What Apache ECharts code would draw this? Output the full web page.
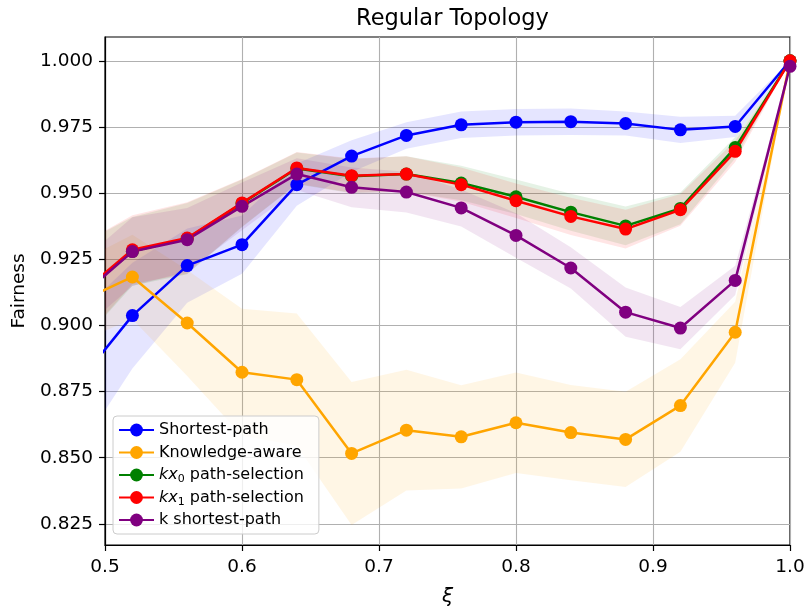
<!DOCTYPE html>
<html>
<head>
<meta charset="utf-8">
<script src="https://cdn.jsdelivr.net/npm/echarts@6/dist/echarts.min.js"></script>
<style>
  html, body { margin: 0; padding: 0; background: #fff; }
  #chart { width: 806px; height: 608px; }
</style>
</head>
<body>
<div id="chart"></div>
<script>
// Sweep of xi values (first point lies just left of the visible range)
const xi = [0.48, 0.52, 0.56, 0.60, 0.64, 0.68, 0.72, 0.76, 0.80, 0.84, 0.88, 0.92, 0.96, 1.00];

// Mean fairness per strategy
const shortestPath   = [0.878, 0.9037, 0.9226, 0.9305, 0.9532, 0.9640, 0.9718, 0.9758, 0.9768, 0.9770, 0.9763, 0.9739, 0.9752, 1.000];
const knowledgeAware = [0.9087, 0.9183, 0.9009, 0.8823, 0.8795, 0.8516, 0.8604, 0.8579, 0.8632, 0.8595, 0.8569, 0.8697, 0.8974, 1.000];
const kx0Selection   = [0.911, 0.9280, 0.9328, 0.9461, 0.9593, 0.9564, 0.9572, 0.9538, 0.9486, 0.9428, 0.9376, 0.9442, 0.9672, 1.000];
const kx1Selection   = [0.911, 0.9286, 0.9330, 0.9463, 0.9595, 0.9566, 0.9572, 0.9532, 0.9471, 0.9412, 0.9364, 0.9437, 0.9658, 1.000];
const kShortestPath  = [0.910, 0.9279, 0.9324, 0.9450, 0.9572, 0.9522, 0.9504, 0.9444, 0.9340, 0.9217, 0.9050, 0.8990, 0.9170, 0.9979];

// Spread (one standard deviation) per strategy
const shortestPathStd   = [0.026, 0.020, 0.014, 0.011, 0.008, 0.006, 0.005, 0.005, 0.005, 0.005, 0.0045, 0.005, 0.004, 0];
const knowledgeAwareStd = [0.015, 0.016, 0.020, 0.024, 0.025, 0.027, 0.0228, 0.0195, 0.019, 0.018, 0.018, 0.0175, 0.0115, 0];
const kx0SelectionStd   = [0.019, 0.013, 0.0135, 0.009, 0.006, 0.0065, 0.0067, 0.0065, 0.0065, 0.007, 0.0073, 0.006, 0.004, 0];
const kx1SelectionStd   = [0.019, 0.013, 0.0135, 0.009, 0.006, 0.0065, 0.0067, 0.0065, 0.0065, 0.007, 0.0073, 0.006, 0.004, 0];
const kShortestPathStd  = [0.013, 0.013, 0.012, 0.009, 0.006, 0.0075, 0.0077, 0.007, 0.0084, 0.0078, 0.0093, 0.008, 0.0055, 0];

// Axis ticks
const xTicks = [0.5, 0.6, 0.7, 0.8, 0.9, 1.0];
const yTicks = [0.825, 0.850, 0.875, 0.900, 0.925, 0.950, 0.975, 1.000];

const FONT = 'DejaVu Sans';

const strategies = [
  { name: 'Shortest-path',      mean: shortestPath,   std: shortestPathStd,   color: '#0000ff', label: '{t|Shortest-path}' },
  { name: 'Knowledge-aware',    mean: knowledgeAware, std: knowledgeAwareStd, color: '#ffa500', label: '{t|Knowledge-aware}' },
  { name: 'kx0 path-selection', mean: kx0Selection,   std: kx0SelectionStd,   color: '#008000', label: '{i|kx}{s|0}{t| path-selection}' },
  { name: 'kx1 path-selection', mean: kx1Selection,   std: kx1SelectionStd,   color: '#ff0000', label: '{i|kx}{s|1}{t| path-selection}' },
  { name: 'k shortest-path',    mean: kShortestPath,  std: kShortestPathStd,  color: '#800080', label: '{t|k shortest-path}' }
];

const series = [];

// Shaded mean ± std bands, one polygon per strategy, beneath all lines
strategies.forEach(s => {
  series.push({
    type: 'custom',
    name: s.name + ' band',
    silent: true,
    z: 1,
    data: [[xi[0], s.mean[0]]],
    renderItem: (params, api) => {
      const upper = xi.map((x, i) => api.coord([x, s.mean[i] + s.std[i]]));
      const lower = xi.map((x, i) => api.coord([x, s.mean[i] - s.std[i]])).reverse();
      const cs = params.coordSys;
      return {
        type: 'polygon',
        shape: { points: upper.concat(lower) },
        style: { fill: s.color, opacity: 0.1 },
        clipPath: { type: 'rect', shape: { x: cs.x, y: cs.y, width: cs.width, height: cs.height } }
      };
    }
  });
});

// Mean lines with markers
strategies.forEach(s => {
  series.push({
    type: 'line',
    name: s.name,
    data: xi.map((x, i) => [x, s.mean[i]]),
    symbol: 'circle',
    symbolSize: 13,
    lineStyle: { color: s.color, width: 2.5 },
    itemStyle: { color: s.color },
    z: 3
  });
});

const labelOf = {};
strategies.forEach(s => { labelOf[s.name] = s.label; });

const chart = echarts.init(document.getElementById('chart'), null, { renderer: 'canvas' });
chart.setOption({
  animation: false,
  backgroundColor: '#ffffff',
  title: {
    text: 'Regular Topology',
    left: 447.5,
    top: 3,
    textAlign: 'center',
    textStyle: { fontFamily: FONT, fontSize: 22.5, fontWeight: 'normal', color: '#000' }
  },
  grid: {
    left: 105, right: 16, top: 37, bottom: 63,
    outerBoundsMode: 'none',
    containLabel: false,
    show: true, borderColor: '#000', borderWidth: 1.2, backgroundColor: 'transparent'
  },
  legend: {
    data: strategies.map(s => s.name),
    orient: 'vertical',
    left: 113,
    top: 416,
    itemWidth: 35,
    itemHeight: 16,
    itemGap: 2.5,
    itemTextGap: 12,
    padding: [4, 15, 4, 5],
    backgroundColor: 'rgba(255,255,255,0.8)',
    borderColor: '#cccccc',
    borderWidth: 1,
    borderRadius: 4,
    formatter: name => labelOf[name],
    textStyle: {
      fontFamily: FONT, fontSize: 16, lineHeight: 20, color: '#000',
      rich: {
        t: { fontFamily: FONT, fontSize: 16, lineHeight: 20, color: '#000' },
        i: { fontFamily: FONT, fontSize: 16, lineHeight: 20, color: '#000', fontStyle: 'italic' },
        s: { fontFamily: FONT, fontSize: 11, lineHeight: 11, color: '#000', verticalAlign: 'bottom' }
      }
    }
  },
  xAxis: {
    type: 'value',
    min: 0.5,
    max: 1.0,
    interval: 0.1,
    name: 'ξ',
    nameLocation: 'middle',
    nameGap: 42,
    nameTextStyle: { fontFamily: FONT, fontSize: 20, fontStyle: 'italic', color: '#000' },
    axisLine: { onZero: false, lineStyle: { color: '#000', width: 1.2 } },
    axisTick: { show: true, inside: false, length: 6, lineStyle: { color: '#000', width: 1.2 }, customValues: xTicks },
    axisLabel: {
      customValues: xTicks,
      margin: 13,
      fontFamily: FONT, fontSize: 18.5, color: '#000',
      formatter: v => v.toFixed(1)
    },
    splitLine: { show: true, lineStyle: { color: '#b0b0b0', width: 1.1 } }
  },
  yAxis: {
    type: 'value',
    min: 0.817,
    max: 1.009,
    name: 'Fairness',
    nameLocation: 'middle',
    nameGap: 76,
    nameRotate: 90,
    nameTextStyle: { fontFamily: FONT, fontSize: 18.5, color: '#000' },
    axisLine: { onZero: false, lineStyle: { color: '#000', width: 1.2 } },
    axisTick: { show: true, inside: false, length: 6, lineStyle: { color: '#000', width: 1.2 }, customValues: yTicks },
    axisLabel: {
      customValues: yTicks,
      margin: 12,
      fontFamily: FONT, fontSize: 18.5, color: '#000',
      formatter: v => v.toFixed(3)
    },
    splitLine: { show: true, lineStyle: { color: '#b0b0b0', width: 1.1 } }
  },
  series: series
});
</script>
</body>
</html>
